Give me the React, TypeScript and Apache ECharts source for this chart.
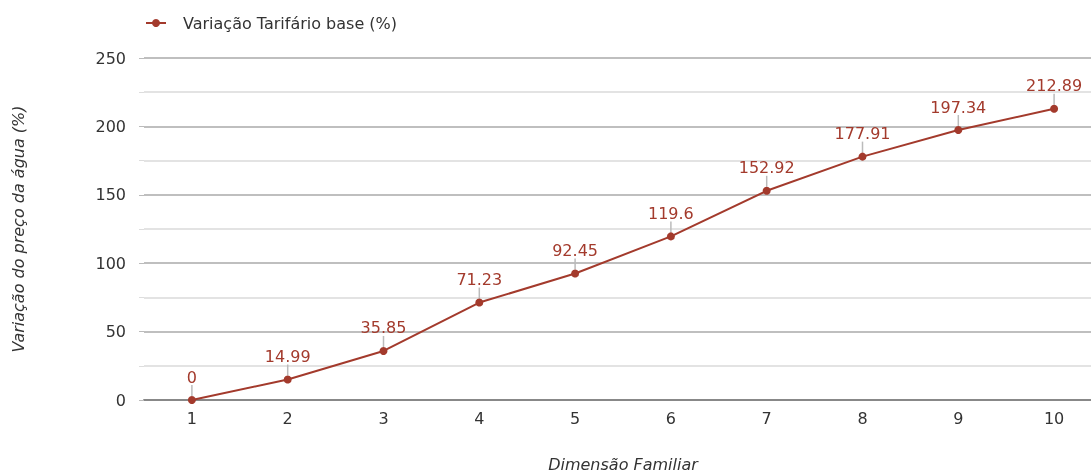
import React, { useEffect, useRef } from "react";
import * as echarts from "echarts";

const categories = ["1", "2", "3", "4", "5", "6", "7", "8", "9", "10"];
const seriesName = "Variação Tarifário base (%)";
const values = [0, 14.99, 35.85, 71.23, 92.45, 119.6, 152.92, 177.91, 197.34, 212.89];
const xAxisTitle = "Dimensão Familiar";
const yAxisTitle = "Variação do preço da água (%)";

const FONT = "DejaVu Sans";

export default function App() {
  const ref = useRef<HTMLDivElement>(null);
  useEffect(() => {
    if (!ref.current) return;
    const chart = echarts.init(ref.current, undefined, { renderer: "svg" });
    chart.setOption({
      animation: false,
      textStyle: { fontFamily: FONT },
      legend: {
        left: 140,
        top: 10,
        itemWidth: 20,
        itemHeight: 10,
        textStyle: { fontSize: 16, color: "#333", fontFamily: FONT, padding: [0, 0, 0, 12] },
        data: [seriesName],
      },
      grid: {
        left: 144,
        top: 58,
        width: 958,
        height: 342,
        containLabel: false,
        outerBoundsMode: "none",
      },
      xAxis: {
        type: "category",
        data: categories,
        name: xAxisTitle,
        nameLocation: "middle",
        nameGap: 56,
        nameTextStyle: { fontStyle: "italic", fontSize: 16, color: "#333", fontFamily: FONT },
        axisLine: { lineStyle: { color: "#888", width: 2 } },
        axisTick: { show: false },
        axisLabel: { fontSize: 16, color: "#333", margin: 10, fontFamily: FONT },
      },
      yAxis: {
        type: "value",
        min: 0,
        max: 250,
        interval: 50,
        name: yAxisTitle,
        nameLocation: "middle",
        nameGap: 118,
        nameTextStyle: { fontStyle: "italic", fontSize: 16, color: "#333", fontFamily: FONT },
        axisLine: { show: false },
        axisTick: { show: true, length: 5, lineStyle: { color: "#bbb" } },
        minorTick: { show: true, splitNumber: 2, length: 5, lineStyle: { color: "#ddd" } },
        axisLabel: { fontSize: 16, color: "#333", margin: 18, fontFamily: FONT },
        splitLine: { lineStyle: { color: "#aaa", width: 1.5 } },
        minorSplitLine: { show: true, lineStyle: { color: "#e3e3e3", width: 2 } },
      },
      series: [
        {
          name: seriesName,
          type: "line",
          data: values,
          color: "#a33a2c",
          symbol: "circle",
          symbolSize: 8,
          lineStyle: { width: 2, color: "#a33a2c" },
          itemStyle: { color: "#a33a2c" },
          label: {
            show: true,
            position: "top",
            distance: 5,
            color: "#a33a2c",
            fontSize: 16,
            fontFamily: FONT,
          },
          labelLayout: { dy: -6 },
          labelLine: { show: true, lineStyle: { color: "#bbb", width: 1.5 } },
        },
      ],
    });
    return () => chart.dispose();
  }, []);
  return (
    <div
      ref={ref}
      style={{ position: "fixed", left: 0, top: 0, width: 1091, height: 475 }}
    />
  );
}
